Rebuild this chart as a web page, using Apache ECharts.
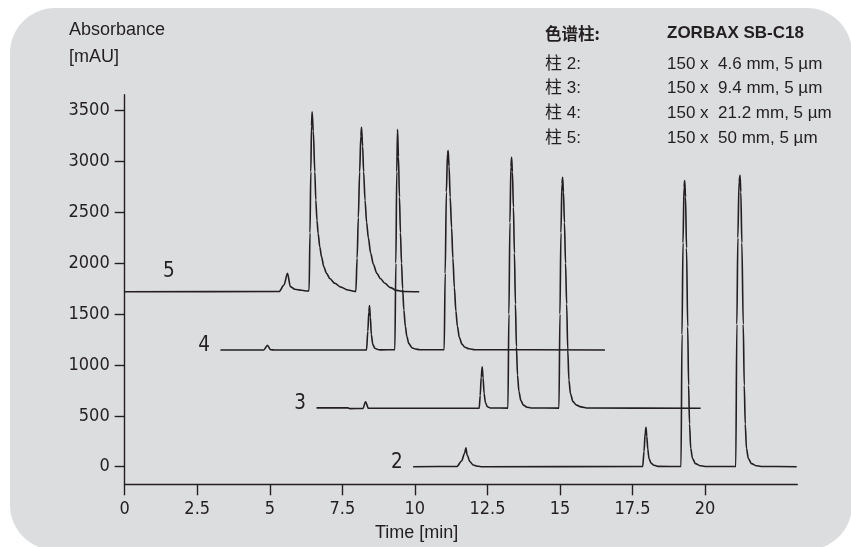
<!DOCTYPE html>
<html>
<head>
<meta charset="utf-8">
<script src="https://cdn.jsdelivr.net/npm/echarts@6/dist/echarts.min.js"></script>
<style>
  html, body { margin: 0; padding: 0; background: #ffffff; }
  #chart { width: 851px; height: 547px; }
</style>
</head>
<body>
<div id="chart"></div>
<script>
// Axis ticks
const timeTicks = [0, 2.5, 5, 7.5, 10, 12.5, 15, 17.5, 20];
const absTicks = [0, 500, 1000, 1500, 2000, 2500, 3000, 3500];

// Column table (legend block)
const columnTitle = ['色谱柱:', 'ZORBAX SB-C18'];
const columnNames = ['柱 2:', '柱 3:', '柱 4:', '柱 5:'];
const columnSizes = ['150 x  4.6 mm, 5 µm', '150 x  9.4 mm, 5 µm', '150 x  21.2 mm, 5 µm', '150 x  50 mm, 5 µm'];

// Chromatograms: [time (min), absorbance (mAU)]
const trace2 = [
  [9.94, 0], [11.45, 2], [11.61, 56], [11.71, 130], [11.76, 187], [11.80, 115], [11.90, 49],
  [12.01, 17], [12.18, 4], [12.31, 0],
  [17.852, 2], [17.897, 150], [17.938, 330], [17.966, 387], [17.993, 300], [18.028, 170],
  [18.069, 80], [18.138, 35], [18.241, 14], [18.379, 3],
  [19.172, 2], [19.207, 1300], [19.241, 2200], [19.276, 2750], [19.300, 2812], [19.328, 2650],
  [19.362, 2150], [19.403, 1376], [19.434, 800], [19.466, 420], [19.507, 180], [19.569, 80],
  [19.672, 30], [19.828, 10], [20.000, 2],
  [21.059, 2], [21.097, 1400], [21.131, 2250], [21.172, 2800], [21.207, 2865], [21.234, 2700],
  [21.269, 2200], [21.317, 1400], [21.352, 800], [21.386, 420], [21.428, 180], [21.493, 80],
  [21.603, 30], [21.759, 10], [21.931, 2],
  [23.16, 0]
];
const trace3 = [
  [6.61, 578], [7.69, 578], [7.76, 571],
  [8.21, 572], [8.30, 639], [8.40, 574],
  [12.217, 575], [12.252, 700], [12.286, 880], [12.321, 983], [12.352, 870], [12.386, 720],
  [12.431, 630], [12.500, 590], [12.603, 577],
  [13.207, 576], [13.241, 1500], [13.276, 2400], [13.310, 2950], [13.334, 3042], [13.362, 2900],
  [13.397, 2550], [13.431, 2100], [13.466, 1600], [13.500, 1180], [13.538, 900], [13.586, 740],
  [13.655, 650], [13.741, 605], [13.862, 585], [14.000, 577],
  [14.966, 576], [15.000, 1500], [15.034, 2300], [15.069, 2780], [15.093, 2845], [15.121, 2700],
  [15.155, 2400], [15.193, 2000], [15.231, 1600], [15.269, 1150], [15.310, 850], [15.362, 720],
  [15.448, 640], [15.569, 605], [15.724, 588], [15.966, 577],
  [19.85, 574]
];
const trace4 = [
  [3.30, 1147], [4.79, 1147], [4.92, 1193], [5.03, 1150], [5.17, 1147],
  [8.334, 1148], [8.379, 1330], [8.414, 1520], [8.438, 1583], [8.466, 1470], [8.500, 1300],
  [8.552, 1200], [8.621, 1165], [8.724, 1152], [8.828, 1148],
  [9.310, 1150], [9.345, 2000], [9.376, 2900], [9.403, 3317], [9.434, 3050], [9.469, 2650],
  [9.503, 2300], [9.541, 2000], [9.579, 1750], [9.621, 1540], [9.672, 1380], [9.724, 1280],
  [9.793, 1210], [9.897, 1170], [10.017, 1157], [10.172, 1150],
  [11.010, 1150], [11.045, 1900], [11.086, 2700], [11.124, 3080], [11.148, 3107], [11.179, 2950],
  [11.217, 2650], [11.266, 2350], [11.310, 2050], [11.362, 1760], [11.414, 1530], [11.466, 1380],
  [11.534, 1270], [11.621, 1205], [11.724, 1175], [11.862, 1160], [12.069, 1150],
  [16.55, 1147]
];
const trace5 = [
  [0, 1720], [5.32, 1722], [5.49, 1786], [5.61, 1901], [5.71, 1770], [5.86, 1744],
  [6.09, 1734], [6.32, 1727],
  [6.355, 1735], [6.386, 2300], [6.414, 2900], [6.438, 3350], [6.459, 3488], [6.500, 3300],
  [6.552, 2900], [6.586, 2622], [6.628, 2420], [6.666, 2295], [6.724, 2160], [6.783, 2065],
  [6.862, 1965], [6.955, 1901], [7.069, 1850], [7.241, 1803], [7.448, 1765], [7.700, 1737],
  [7.931, 1724],
  [7.966, 1723], [8.010, 2050], [8.052, 2450], [8.097, 2900], [8.138, 3250], [8.162, 3337],
  [8.200, 3150], [8.234, 2900], [8.283, 2620], [8.338, 2400], [8.397, 2250], [8.476, 2100],
  [8.569, 1990], [8.690, 1901], [8.810, 1850], [8.966, 1803], [9.155, 1760], [9.369, 1733],
  [9.621, 1723],
  [10.15, 1720]
];

const INK = '#231f20';
const COND = '"DejaVu Sans Condensed", "Liberation Sans", Arial, sans-serif';

function traceSeries(name, data, label, labelCoord, labelPos) {
  return {
    name: name,
    type: 'line',
    data: data,
    showSymbol: false,
    symbol: 'none',
    smooth: 0.3,
    smoothMonotone: 'x',
    silent: true,
    lineStyle: { color: INK, width: 1.6 },
    markPoint: {
      symbol: 'circle',
      symbolSize: 1,
      itemStyle: { color: 'transparent' },
      silent: true,
      data: [{
        coord: labelCoord,
        label: Object.assign({
          show: true,
          formatter: label,
          color: INK,
          fontFamily: COND,
          fontSize: 20.5
        }, labelPos)
      }]
    }
  };
}

const chart = echarts.init(document.getElementById('chart'), null, { renderer: 'canvas' });

const legendRows = [];
legendRows.push({
  type: 'text', left: 545, top: 25,
  style: { text: columnTitle[0], fill: INK, font: 'bold 16.5px "Noto Sans CJK SC", sans-serif' }
});
legendRows.push({
  type: 'text', left: 667, top: 25,
  style: { text: columnTitle[1], fill: INK, font: 'bold 17px "Liberation Sans", Arial, sans-serif' }
});
columnNames.forEach(function (nm, i) {
  legendRows.push({
    type: 'text', left: 545, top: 55.5 + i * 24.8,
    style: { text: nm, fill: INK, font: '17px "Liberation Sans", "Noto Sans CJK SC", sans-serif' }
  });
  legendRows.push({
    type: 'text', left: 667, top: 55.5 + i * 24.8,
    style: { text: columnSizes[i], fill: INK, font: '17px "Liberation Sans", Arial, sans-serif' }
  });
});

chart.setOption({
  animation: false,
  backgroundColor: '#ffffff',
  graphic: [
    {
      type: 'rect', z: -10, silent: true,
      shape: { x: 10, y: 8, width: 842, height: 542, r: 45 },
      style: { fill: '#dcdddf' }
    },
    {
      type: 'text', left: 69, top: 21,
      style: { text: 'Absorbance', fill: INK, font: '18px "Liberation Sans", Arial, sans-serif' }
    },
    {
      type: 'text', left: 69, top: 48,
      style: { text: '[mAU]', fill: INK, font: '18px "Liberation Sans", Arial, sans-serif' }
    },
    {
      type: 'text', left: 375, top: 524,
      style: { text: 'Time [min]', fill: INK, font: '18px "Liberation Sans", Arial, sans-serif' }
    }
  ].concat(legendRows),
  grid: { left: 124.7, right: 53.7, top: 94.7, bottom: 62.7, containLabel: false },
  xAxis: {
    type: 'value',
    min: 0,
    max: 23.18,
    axisLine: { show: true, onZero: false, lineStyle: { color: INK, width: 1.4 } },
    axisTick: { show: true, customValues: timeTicks, length: 11, lineStyle: { color: INK, width: 1.4 } },
    axisLabel: {
      customValues: timeTicks,
      margin: 16.5,
      color: INK,
      fontFamily: COND,
      fontSize: 18,
      formatter: function (v) { return String(v); }
    },
    splitLine: { show: false }
  },
  yAxis: {
    type: 'value',
    min: -173,
    max: 3657,
    axisLine: { show: true, onZero: false, lineStyle: { color: INK, width: 1.4 } },
    axisTick: { show: true, customValues: absTicks, length: 10, lineStyle: { color: INK, width: 1.4 } },
    axisLabel: {
      customValues: absTicks,
      margin: 15,
      color: INK,
      fontFamily: COND,
      fontSize: 18,
      formatter: function (v) { return String(v); }
    },
    splitLine: { show: false }
  },
  series: [
    traceSeries('2', trace2, '2', trace2[0], { position: 'left', distance: 10, offset: [0, -4] }),
    traceSeries('3', trace3, '3', trace3[0], { position: 'left', distance: 10, offset: [0, -4] }),
    traceSeries('4', trace4, '4', trace4[0], { position: 'left', distance: 10, offset: [0, -4] }),
    traceSeries('5', trace5, '5', [1.52, trace5[0][1]], { position: 'top', distance: 9 })
  ]
});
</script>
</body>
</html>
